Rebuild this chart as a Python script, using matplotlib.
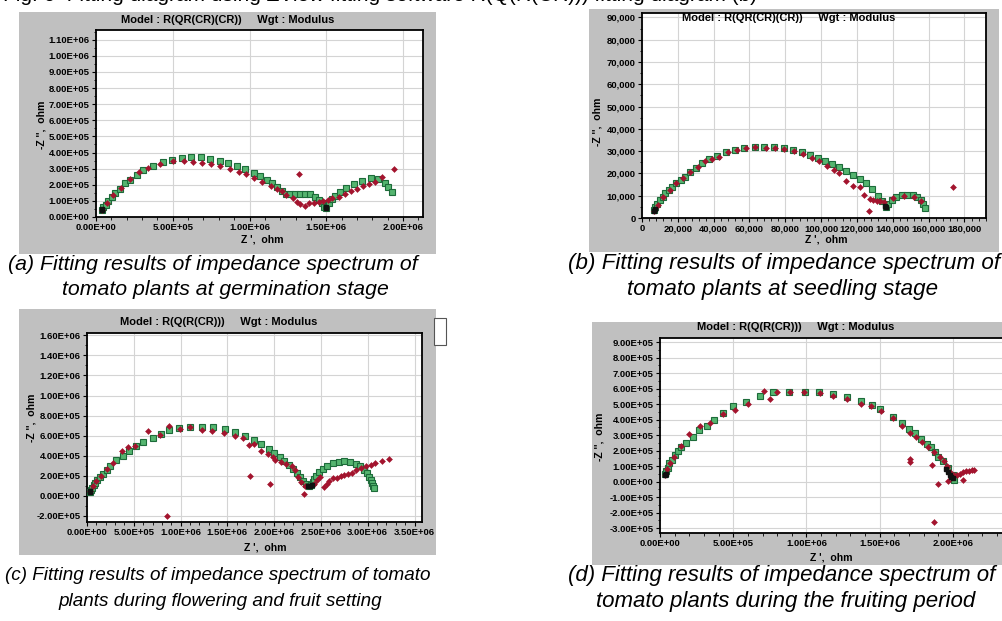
import numpy as np
import matplotlib.pyplot as plt
from matplotlib.patches import Rectangle
from matplotlib.ticker import MultipleLocator, FuncFormatter, AutoMinorLocator

plt.rcParams['font.family'] = ['Liberation Sans', 'DejaVu Sans']

W, H = 1003, 621

# (a) germination stage, ohm / 1e5
a_fit_x = [0.37, 0.48, 0.65, 0.80, 1.02, 1.24, 1.57, 1.89, 2.22, 2.65, 3.09, 3.74, 4.39, 4.93, 5.59,
           6.18, 6.83, 7.44, 8.09, 8.63, 9.17, 9.72, 10.26, 10.70, 11.13, 11.45, 11.78, 12.10, 12.39, 12.65,
           12.98, 13.30, 13.63, 13.96, 14.24, 14.50, 14.70, 14.85, 15.00, 15.15, 15.35, 15.60, 15.90, 16.30,
           16.80, 17.30, 17.90, 18.40, 18.80, 19.05, 19.30]
a_fit_y = [0.44, 0.61, 0.77, 0.99, 1.21, 1.47, 1.75, 2.08, 2.30, 2.63, 2.89, 3.14, 3.40, 3.55, 3.65,
           3.70, 3.70, 3.62, 3.50, 3.35, 3.15, 2.95, 2.75, 2.52, 2.30, 2.10, 1.85, 1.60, 1.45, 1.40,
           1.40, 1.45, 1.45, 1.40, 1.25, 1.05, 0.85, 0.65, 0.58, 0.85, 1.10, 1.30, 1.52, 1.80,
           2.05, 2.25, 2.40, 2.35, 2.10, 1.85, 1.55]
a_meas_x = [0.37, 0.70, 1.10, 1.60, 2.20, 2.80, 3.40, 4.20, 5.00, 5.70, 6.30, 6.90, 7.50, 8.10, 8.70,
            9.30, 9.80, 10.30, 10.80, 11.40, 11.80, 12.10, 12.40, 12.80, 13.10, 13.30, 13.60, 13.90, 14.20,
            14.50, 14.80, 15.10, 15.40, 15.80, 16.20, 16.60, 17.00, 17.40, 17.80, 18.20, 18.60, 19.40, 13.20]
a_meas_y = [0.44, 0.85, 1.35, 1.80, 2.35, 2.80, 3.05, 3.30, 3.45, 3.50, 3.42, 3.38, 3.30, 3.15, 2.95,
            2.80, 2.65, 2.45, 2.20, 1.95, 1.75, 1.60, 1.35, 1.20, 0.95, 0.80, 0.70, 0.85, 0.85,
            0.90, 1.00, 1.05, 1.15, 1.25, 1.40, 1.60, 1.75, 1.90, 2.05, 2.20, 2.50, 2.95, 2.65]
a_hf_x = [0.37, 0.40, 14.95, 15.00]
a_hf_y = [0.42, 0.50, 0.55, 0.60]

# (b) seedling stage, ohm / 1e3
b_fit_x = [6.5, 7.5, 8.5, 10, 11.5, 13, 15, 17, 19, 21.5, 24, 27, 30, 33.5, 37.5, 42, 47, 52, 57, 63,
           68, 73.5, 79, 84.5, 89.5, 94, 98, 102, 106, 110, 114, 118, 121.5, 125, 128.5, 131.5, 134, 136,
           137.5, 139.5, 142, 145, 148, 151, 153.5, 155.5, 157, 158]
b_fit_y = [3.5, 5, 6.5, 8, 9.5, 11, 12.5, 14, 15.5, 17, 18.5, 20.5, 22.5, 24.5, 26.5, 28, 29.5, 30.5, 31.3, 32,
           32, 31.8, 31.2, 30.5, 29.5, 28.3, 27, 25.8, 24.3, 22.8, 21.2, 19.5, 17.7, 15.5, 12.8, 10, 7.5, 5,
           6.5, 8.2, 9.5, 10.2, 10.4, 10.2, 9.5, 8.2, 6.5, 4.5]
b_meas_x = [6.5, 9, 12, 15.5, 19, 23, 27, 31, 35, 39, 43, 48, 53, 58, 63, 69, 74, 79, 85, 90,
            95, 99, 103, 107, 110, 114, 118, 121.5, 124, 127, 129, 131, 133, 135, 126.5, 140, 146, 152, 156, 173.5]
b_meas_y = [3.2, 6, 9.5, 12.5, 15.5, 18, 20.5, 23, 25.5, 26.5, 27.5, 29.5, 30.5, 31.3, 31.8, 31.5, 31.3, 30.8, 30, 28.5,
            27, 25.5, 23.5, 21.5, 20, 16.8, 14.5, 14, 10.5, 8.5, 8, 7.5, 7.5, 7, 3.2, 9, 10, 9.5, 7.5, 14]
b_hf_x = [6.5, 7.0, 135.5, 136.0]
b_hf_y = [3.2, 4.0, 5.5, 4.8]

# (c) flowering and fruit setting, ohm / 1e5
c_fit_x = [0.3, 0.4, 0.55, 0.7, 0.9, 1.1, 1.35, 1.7, 2.1, 2.5, 3.1, 3.8, 4.5, 5.2, 6.0, 7.0, 7.9, 8.8, 9.8, 11.0,
           12.3, 13.5, 14.7, 15.8, 16.9, 17.8, 18.6, 19.4, 20.0, 20.6, 21.1, 21.6, 22.0, 22.4, 22.8, 23.1, 23.4, 23.7,
           23.9, 24.1, 24.3, 24.5, 24.8, 25.2, 25.7, 26.3, 26.9, 27.5, 28.1, 28.7, 29.2, 29.6, 29.9, 30.1, 30.3,
           30.45, 30.55, 30.65]
c_fit_y = [0.4, 0.6, 0.8, 1.05, 1.3, 1.6, 1.9, 2.2, 2.6, 3.0, 3.55, 4.0, 4.5, 4.95, 5.35, 5.8, 6.2, 6.55, 6.75, 6.85,
           6.9, 6.85, 6.7, 6.4, 6.0, 5.6, 5.15, 4.7, 4.3, 3.9, 3.5, 3.1, 2.7, 2.3, 1.9, 1.5, 1.2, 1.0,
           1.1, 1.4, 1.7, 2.0, 2.35, 2.7, 3.0, 3.25, 3.4, 3.45, 3.4, 3.2, 2.95, 2.6, 2.25, 1.9, 1.55,
           1.25, 0.95, 0.75]
c_meas_x = [0.3, 0.6, 1.0, 1.5, 2.1, 2.8, 3.7, 4.4, 5.1, 6.5, 7.8, 8.8, 9.9, 11.0, 12.3, 13.4, 14.6, 15.8, 16.7, 17.3,
            17.9, 18.6, 19.3, 19.9, 20.1, 20.7, 21.3, 21.9, 22.2, 22.5, 22.9, 23.3,
            24.3, 24.6, 24.9, 25.3, 25.6, 25.9, 26.3, 26.7, 27.1, 27.5, 27.9, 28.3, 28.8, 29.3, 29.8, 30.3, 30.8, 31.5,
            32.3, 8.6, 17.4, 19.6, 23.2]
c_meas_y = [0.5, 1.0, 1.5, 2.0, 2.7, 3.3, 4.5, 4.9, 5.0, 6.5, 6.1, 7.0, 6.7, 6.85, 6.6, 6.5, 6.25, 6.0, 5.8, 5.1,
            5.2, 4.5, 4.2, 3.9, 3.6, 3.4, 3.2, 3.0, 2.6, 1.9, 1.4, 1.0,
            1.2, 1.6, 1.9, 0.9, 1.2, 1.5, 1.75, 1.8, 1.95, 2.05, 2.15, 2.3, 2.55, 2.8, 2.95, 3.05, 3.3, 3.5,
            3.7, -2.0, 2.0, 1.2, 0.15]
c_hf_x = [0.3, 0.35, 23.6, 23.8, 24.0]
c_hf_y = [0.4, 0.5, 1.0, 0.95, 1.05]

# (d) fruiting period, ohm / 1e5
d_fit_x = [0.34, 0.41, 0.53, 0.64, 0.83, 1.0, 1.2, 1.45, 1.8, 2.25, 2.66, 3.2, 3.7, 4.3, 5.0, 5.87, 6.8, 7.75, 8.8, 9.9,
           10.85, 11.8, 12.75, 13.7, 14.5, 15.0, 15.9, 16.5, 17.0, 17.4, 17.8, 18.2, 18.5, 18.8, 19.0, 19.3, 19.7,
           20.0, 20.1]
d_fit_y = [0.48, 0.67, 0.9, 1.17, 1.4, 1.7, 2.0, 2.25, 2.5, 2.9, 3.3, 3.6, 4.0, 4.45, 4.88, 5.16, 5.5, 5.75, 5.78, 5.8,
           5.75, 5.65, 5.45, 5.2, 4.95, 4.7, 4.15, 3.8, 3.4, 3.1, 2.75, 2.45, 2.25, 1.9, 1.6, 1.3, 0.85,
           0.4, 0.1]
d_meas_x = [0.37, 0.5, 0.7, 0.95, 1.4, 2.0, 2.7, 3.4, 4.3, 5.1, 6.0, 7.1, 7.5, 8.0, 8.9, 9.8, 10.9, 11.8, 12.8, 13.7,
            14.4, 15.1, 15.9, 16.5, 17.1, 17.5, 17.9, 18.3, 18.7, 19.1, 19.4, 19.6, 19.8,
            19.9, 20.1, 20.3, 20.5, 20.7, 20.9, 21.1, 21.3, 21.45,
            17.1, 17.05, 18.6, 18.95, 18.7, 19.7, 20.7, 19.6]
d_meas_y = [0.45, 0.8, 1.2, 1.6, 2.3, 3.05, 3.6, 3.8, 4.35, 4.6, 5.0, 5.85, 5.35, 5.8, 5.75, 5.75, 5.7, 5.5, 5.3, 5.0,
            4.9, 4.55, 4.1, 3.6, 3.1, 2.85, 2.55, 2.25, 1.9, 1.6, 1.3, 0.95, 0.6,
            0.3, 0.4, 0.45, 0.5, 0.6, 0.65, 0.7, 0.75, 0.75,
            1.45, 1.25, 1.05, -0.15, -2.6, 0.05, 0.1, 1.0]
d_hf_x = [0.35, 0.40, 19.5, 19.7, 19.8, 19.9, 20.0]
d_hf_y = [0.40, 0.50, 0.80, 0.60, 0.45, 0.30, 0.20]

captions = [
    ("(a) Fitting results of impedance spectrum of", "tomato plants at germination stage"),
    ("(b) Fitting results of impedance spectrum of", "tomato plants at seedling stage"),
    ("(c) Fitting results of impedance spectrum of tomato", "plants during flowering and fruit setting"),
    ("(d) Fitting results of impedance spectrum of", "tomato plants during the fruiting period"),
]

GRAY = '#c0c0c0'
GREEN_FACE = '#55b56f'
GREEN_EDGE = '#1d6b3a'
RED = '#a3142e'

fig = plt.figure(figsize=(W / 100, H / 100), dpi=100)


def fx(px):
    return px / W


def fy(py):
    return 1 - py / H


def gray_box(x0, y0, x1, y1):
    fig.patches.append(Rectangle((fx(x0), fy(y1)), fx(x1 - x0), (y1 - y0) / H,
                                 transform=fig.transFigure, facecolor=GRAY,
                                 edgecolor='none', zorder=-10))


def panel(box, title, title_xy, xlab_xy, ylab_xy, scale, fit, meas, hf,
          xlim, ylim, xstep, ystep, fmt):
    l, t, r, b = box
    ax = fig.add_axes([fx(l), fy(b), fx(r - l), (b - t) / H])
    ax.set_zorder(2)
    ax.set_facecolor('white')
    ax.plot(np.array(fit[0]) * scale, np.array(fit[1]) * scale, 's', ms=3.8,
            mfc=GREEN_FACE, mec=GREEN_EDGE, mew=0.8, zorder=3)
    ax.plot(np.array(meas[0]) * scale, np.array(meas[1]) * scale, 'D', ms=3.0,
            mfc=RED, mec=RED, mew=0.4, zorder=4)
    ax.plot(np.array(hf[0]) * scale, np.array(hf[1]) * scale, 's', ms=3.2,
            mfc='#111111', mec='#111111', zorder=5)
    ax.set_xlim(*xlim)
    ax.set_ylim(*ylim)
    ax.xaxis.set_major_locator(MultipleLocator(xstep))
    ax.yaxis.set_major_locator(MultipleLocator(ystep))
    ax.xaxis.set_minor_locator(AutoMinorLocator(5))
    ax.yaxis.set_minor_locator(AutoMinorLocator(2))
    ax.xaxis.set_major_formatter(FuncFormatter(fmt))
    ax.yaxis.set_major_formatter(FuncFormatter(fmt))
    ax.grid(True, which='major', color='#d4d4d4', lw=0.8, zorder=0)
    ax.set_axisbelow(True)
    for s in ax.spines.values():
        s.set_color('black')
        s.set_linewidth(1.3)
    ax.tick_params(which='major', direction='out', length=3, width=0.8,
                   labelsize=6.8, pad=1.5, colors='black')
    ax.tick_params(which='minor', direction='out', length=1.8, width=0.6)
    for lab in ax.get_xticklabels() + ax.get_yticklabels():
        lab.set_fontweight('bold')
    fig.text(fx(title_xy[0]), fy(title_xy[1]), title, fontsize=8.0, fontweight='bold',
             ha='center', va='center', zorder=3)
    fig.text(fx(xlab_xy[0]), fy(xlab_xy[1]), "Z ',  ohm", fontsize=7.6, fontweight='bold',
             ha='center', va='center', zorder=3)
    fig.text(fx(ylab_xy[0]), fy(ylab_xy[1]), "-Z '',  ohm", fontsize=7.6, fontweight='bold',
             ha='center', va='center', rotation=90, zorder=3)
    return ax


def sci(v, pos):
    return f"{v:.2E}"


def comma(v, pos):
    return f"{v:,.0f}"


# gray frames behind each plot
gray_box(19, 12, 436, 254)
gray_box(589, 9, 999, 252)
gray_box(19, 309, 436, 555)
gray_box(592, 322, 1003, 565)

panel((96, 30, 423, 217), "Model : R(QR(CR)(CR))     Wgt : Modulus", (228, 20), (262, 240), (42, 125),
      1e5, (a_fit_x, a_fit_y), (a_meas_x, a_meas_y), (a_hf_x, a_hf_y),
      (0, 2.13e6), (0, 1.16e6), 5e5, 1e5, sci)
panel((642, 13, 986, 218), "Model : R(QR(CR)(CR))     Wgt : Modulus", (789, 18), (826, 240), (598, 122),
      1e3, (b_fit_x, b_fit_y), (b_meas_x, b_meas_y), (b_hf_x, b_hf_y),
      (0, 1.92e5), (0, 9.2e4), 2e4, 1e4, comma)
panel((87, 333, 422, 522), "Model : R(Q(R(CR)))     Wgt : Modulus", (219, 322), (265, 547), (32, 418),
      1e5, (c_fit_x, c_fit_y), (c_meas_x, c_meas_y), (c_hf_x, c_hf_y),
      (0, 3.58e6), (-2.6e5, 1.623e6), 5e5, 2e5, sci)
panel((660, 338, 1010, 533), "Model : R(Q(R(CR)))     Wgt : Modulus", (796, 327), (831, 557), (600, 437),
      1e5, (d_fit_x, d_fit_y), (d_meas_x, d_meas_y), (d_hf_x, d_hf_y),
      (0, 2.39e6), (-3.32e5, 9.26e5), 5e5, 1e5, sci)

# small legend box edge peeking out next to panel (c)
fig.patches.append(Rectangle((fx(434), fy(345)), fx(12), 27 / H, transform=fig.transFigure,
                             facecolor='white', edgecolor='#555555', lw=0.8, zorder=1))

# captions: centre x of line 1, centre x of line 2, y of both lines, size
cap_pos = [(213, 225, 264, 289, 15.3), (784, 783, 264, 289, 16.1),
           (218, 220, 576, 601, 13.6), (782, 786, 576, 601, 16.0)]
for (l1, l2), (cx1, cx2, y1, y2, fs) in zip(captions, cap_pos):
    fig.text(fx(cx1), fy(y1), l1, fontsize=fs, style='italic', ha='center', va='center')
    fig.text(fx(cx2), fy(y2), l2, fontsize=fs, style='italic', ha='center', va='center')

# line of the page above, cut off by the crop
fig.text(fx(380), fy(1), "Fig. 6  Fitting diagram using ZView fitting software R(Q(R(CR))) fitting diagram (b)",
         fontsize=15, ha='center', va='baseline')

fig.savefig('out.png', dpi=100)
